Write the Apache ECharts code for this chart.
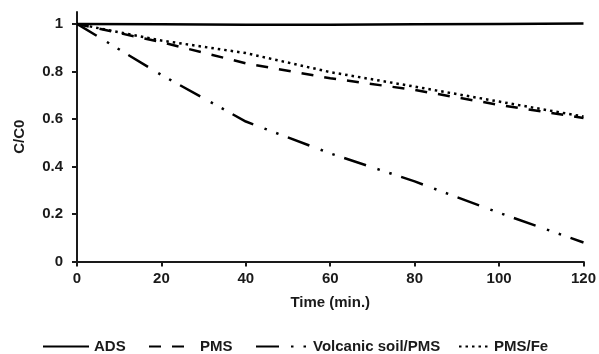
<!DOCTYPE html>
<html>
<head>
<meta charset="utf-8">
<script src="https://cdn.jsdelivr.net/npm/echarts@6/dist/echarts.min.js"></script>
<style>
html,body{margin:0;padding:0;background:#fff;}
#chart{width:599px;height:354px;}
</style>
</head>
<body>
<div id="chart"></div>
<script>
var times = [0, 20, 40, 60, 80, 100, 120];
var adsValues = [1, 0.998, 0.996, 0.996, 0.998, 1, 1.002];
var pmsValues = [1, 0.923, 0.834, 0.771, 0.722, 0.659, 0.604];
var volcanicValues = [1, 0.785, 0.589, 0.455, 0.337, 0.205, 0.08];
var pmsFeValues = [1, 0.93, 0.877, 0.797, 0.736, 0.673, 0.61];
var yTicks = [0, 0.2, 0.4, 0.6, 0.8, 1];
var seriesNames = ['ADS', 'PMS', 'Volcanic soil/PMS', 'PMS/Fe'];

function pairs(vals) { return times.map(function (t, i) { return [t, vals[i]]; }); }

var FONT = '"Liberation Sans", Arial, sans-serif';
var INK = '#1a1a1a';
var txt = { fontFamily: FONT, fontWeight: 'bold', fontSize: 15, color: INK };

function legendAt(name, left, w) {
  return {
    data: [name], left: left, top: 339, padding: 0,
    itemWidth: w, itemHeight: 14,
    itemStyle: { color: 'rgba(0,0,0,0)', borderColor: 'rgba(0,0,0,0)', borderWidth: 0, opacity: 0 },
    textStyle: txt, selectedMode: false
  };
}

var chart = echarts.init(document.getElementById('chart'), null, { renderer: 'canvas' });
chart.setOption({
  animation: false,
  backgroundColor: '#fff',
  grid: { left: 77, right: 14, top: 12, bottom: 92.5 },
  xAxis: {
    type: 'value', min: 0, max: 120, interval: 20,
    name: 'Time (min.)', nameLocation: 'middle', nameGap: 34,
    nameTextStyle: txt,
    axisLine: { show: true, onZero: false, lineStyle: { color: INK, width: 2 } },
    axisTick: { show: true, length: 5, lineStyle: { color: INK, width: 2 } },
    axisLabel: Object.assign({ margin: 10 }, txt),
    splitLine: { show: false }
  },
  yAxis: {
    type: 'value', min: 0, max: 1.05,
    name: 'C/C0', nameLocation: 'middle', nameGap: 50,
    nameTextStyle: txt,
    axisLine: { show: true, lineStyle: { color: INK, width: 2 } },
    axisTick: { show: true, length: 5, customValues: yTicks, lineStyle: { color: INK, width: 2 } },
    axisLabel: Object.assign({ margin: 14, customValues: yTicks }, txt),
    splitLine: { show: false }
  },
  legend: [
    legendAt(seriesNames[0], 42, 46),
    legendAt(seriesNames[1], 148, 46),
    legendAt(seriesNames[2], 255, 52),
    legendAt(seriesNames[3], 458, 30)
  ],
  series: [
    { name: seriesNames[0], type: 'line', data: pairs(adsValues), symbol: 'none',
      lineStyle: { color: '#000', width: 2.5, type: 'solid' }, itemStyle: { color: '#000' } },
    { name: seriesNames[1], type: 'line', data: pairs(pmsValues), symbol: 'none',
      lineStyle: { color: '#000', width: 2.5, type: [12, 11] }, itemStyle: { color: '#000' } },
    { name: seriesNames[2], type: 'line', data: pairs(volcanicValues), symbol: 'none',
      lineStyle: { color: '#000', width: 2.5, type: [23, 12, 2.5, 10, 2.5, 10] }, itemStyle: { color: '#000' } },
    { name: seriesNames[3], type: 'line', data: pairs(pmsFeValues), symbol: 'none',
      lineStyle: { color: '#000', width: 2.5, type: [2.5, 4] }, itemStyle: { color: '#000' } }
  ]
});
</script>
</body>
</html>
